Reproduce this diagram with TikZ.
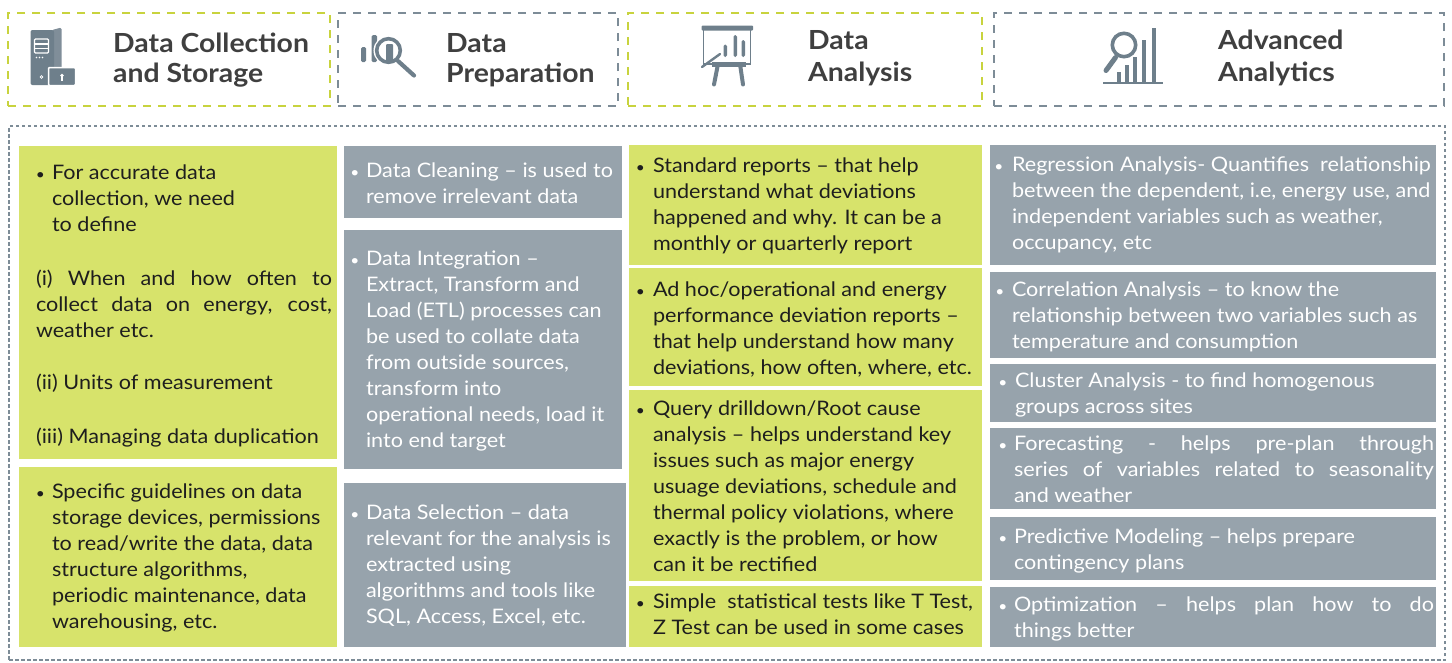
\documentclass[tikz,border=0pt]{standalone}
\usepackage{fontspec}
\setmainfont[FakeStretch=1.08]{Lato}
\definecolor{cgreen}{HTML}{D7E36B}
\definecolor{cgray}{HTML}{97A3AC}
\definecolor{hgreen}{HTML}{C8D33E}
\definecolor{hgray}{HTML}{7D8C97}
\definecolor{icon}{HTML}{6E7F8B}
\definecolor{cdark}{HTML}{1E1E1E}
\definecolor{htext}{HTML}{3F3F3F}
\newcommand\jl[2]{\makebox[#1][s]{#2}}
\newcommand\tb[1]{\begin{tabular}[t]{@{}l@{}}#1\end{tabular}}
\newcommand\bdot{\scalebox{0.72}{\textbullet}}
\tikzset{
  cell/.style={anchor=north west, inner sep=0, outer sep=0, draw=none},
  gbox/.style={cell, fill=cgreen},
  sbox/.style={cell, fill=cgray},
  hbox/.style={cell, line width=1.6, dash pattern=on 8pt off 7pt},
  txt/.style={anchor=base west, inner sep=0, outer sep=0, font=\fontsize{20}{26}\selectfont},
  gtxt/.style={txt, text=cdark},
  wtxt/.style={txt, text=white},
  bul/.style={anchor=base, inner sep=0, outer sep=0, font=\fontsize{20}{26}\selectfont},
  gbul/.style={bul, text=cdark},
  wbul/.style={bul, text=white},
  htxt/.style={anchor=base west, inner sep=0, text=htext},
  hfontA/.style={font=\fontsize{26.3}{30}\selectfont\bfseries},
  hfontB/.style={font=\fontsize{26.3}{32}\selectfont\bfseries},
}
\begin{document}
\begin{tikzpicture}[x=1pt,y=-1pt]
\useasboundingbox (0,0) rectangle (1452,662);
% header boxes
\node[hbox, draw=hgreen, minimum width=322, minimum height=93] (h1) at (8,13) {};
\node[hbox, draw=hgray, minimum width=280, minimum height=93] (h2) at (338,13) {};
\node[hbox, draw=hgreen, minimum width=354, minimum height=93] (h3) at (628,13) {};
\node[hbox, draw=hgray, minimum width=450, minimum height=93] (h4) at (994,13) {};
\node[htxt, hfontA] (t1) at (113,52) {\tb{Data Collection\\and Storage}};
\node[htxt, hfontA] (t2) at (446,52) {\tb{Data\\Preparation}};
\node[htxt, hfontB] (t3) at (808,49) {\tb{Data\\Analysis}};
\node[htxt, hfontB] (t4) at (1218,49) {\tb{Advanced\\Analytics}};
% icon 1: server + lock
\fill[icon!88, rounded corners=1.5] (52,30) -- (61.5,27.5) -- (61.5,85) -- (52,85) -- cycle;
\fill[icon, rounded corners=2] (30.5,30) rectangle (54,85);
\draw[white, line width=1.2, rounded corners=1] (34.5,39) rectangle (48.5,53);
\draw[white, line width=1.2] (34.5,44) -- (48.5,44) (34.5,48.5) -- (48.5,48.5);
\fill[white] (36.5,57.5) circle (0.9) (39.5,57.5) circle (0.9) (42.5,57.5) circle (0.9);
\draw[white, line width=0.8] (41.5,77) circle (1.4);
\draw[white, line width=6.5] (54,68) arc[start angle=180, end angle=0, radius=8];
\draw[icon, line width=3.4] (54,68) arc[start angle=180, end angle=0, radius=8];
\fill[icon, draw=white, line width=1.5, rounded corners=1] (48.5,67.5) rectangle (75.5,85.5);
\fill[white] (62,75.5) circle (1.8);
\draw[white, line width=1.3] (62,75.5) -- (62,81);
% icon 2: bars + magnifier
\fill[icon, rounded corners=1.5] (361,47) rectangle (366,62);
\fill[icon, rounded corners=1.5] (371.5,35) rectangle (377,62);
\fill[icon, rounded corners=1] (386,44) rectangle (393,62);
\draw[white, line width=2] (388.5,50.5) circle (14);
\draw[icon, line width=3.6] (388.5,50.5) circle (11.8);
\draw[icon, line width=4.2, line cap=round] (398,61) -- (414,75.5);
% icon 3: easel
\fill[icon, rounded corners=1] (701.5,25.5) rectangle (753,30.5);
\draw[icon, line width=1.8] (703.5,30) -- (703.5,64) -- (750.5,64) -- (750.5,30);
\fill[icon, rounded corners=1.6] (723.5,44.5) rectangle (727,57);
\fill[icon, rounded corners=1.6] (733.5,35) rectangle (737,57);
\fill[icon, rounded corners=1.6] (741.5,40) rectangle (745,57);
\draw[icon, line width=2.4, line cap=round] (702,67) -- (720,54);
\fill[icon] (712,62) rectangle (746,66.5);
\draw[icon, line width=4, line cap=round] (718,64) -- (714,84.5);
\draw[icon, line width=4, line cap=round] (740,64) -- (743,84.5);
% icon 4: analytics
\draw[icon, line width=2.6] (1103,83) -- (1163,83);
\fill[icon] (1116.5,72) rectangle (1120.5,81.5);
\fill[icon] (1125,65) rectangle (1129,81.5);
\fill[icon] (1133,57) rectangle (1137,81.5);
\fill[icon] (1142.3,40) rectangle (1146.3,81.5);
\fill[icon] (1151.5,28) rectangle (1155.5,81.5);
\draw[white, line width=2] (1124,45) circle (13.5);
\draw[icon, line width=3.6] (1124,45) circle (11.7);
\draw[icon, line width=5, line cap=round] (1115.5,57.5) -- (1106,70.5);
% outer dotted frame
\node[cell, draw=hgray, line width=1.4, dash pattern=on 3.5pt off 2.5pt, minimum width=1436, minimum height=534] (outer) at (9,126) {};
% column A
\node[gbox, minimum width=318, minimum height=313] (a1) at (19,146) {};
\node[gbox, minimum width=318, minimum height=180] (a2) at (19,467) {};
\node[gbul] (a1b) at (40.5,179) {\bdot};
\node[gtxt] (a1t) at (52,179) {\tb{For accurate data\\collection, we need\\to define}};
\node[gtxt] (a1i) at (36,285) {\tb{\jl{296pt}{(i) When and how often to}\\\jl{296pt}{collect data on energy, cost,}\\weather etc.}};
\node[gtxt] (a1ii) at (36,389) {(ii) Units of measurement};
\node[gtxt] (a1iii) at (36,443) {(iii) Managing data duplication};
\node[gbul] (a2b) at (40.5,498) {\bdot};
\node[gtxt] (a2t) at (52,498) {\tb{Specific guidelines on data\\storage devices, permissions\\to read/write the data, data\\structure algorithms,\\periodic maintenance, data\\warehousing, etc.}};
% column B
\node[sbox, minimum width=278, minimum height=72] (b1) at (344,146) {};
\node[sbox, minimum width=278, minimum height=239] (b2) at (344,230) {};
\node[sbox, minimum width=282, minimum height=164] (b3) at (344,483) {};
\node[wbul] (b1b) at (355,177) {\bdot};
\node[wtxt] (b1t) at (366,177) {\tb{Data Cleaning – is used to\\remove irrelevant data}};
\node[wbul] (b2b) at (355,265) {\bdot};
\node[wtxt] (b2t) at (366,265) {\tb{Data Integration –\\Extract, Transform and\\Load (ETL) processes can\\be used to collate data\\from outside sources,\\transform into\\operational needs, load it\\into end target}};
\node[wbul] (b3b) at (355,519) {\bdot};
\node[wtxt] (b3t) at (366,519) {\tb{Data Selection – data\\relevant for the analysis is\\extracted using\\algorithms and tools like\\SQL, Access, Excel, etc.}};
% column C
\node[gbox, minimum width=353, minimum height=120] (c1) at (629,145) {};
\node[gbox, minimum width=353, minimum height=118] (c2) at (629,268) {};
\node[gbox, minimum width=353, minimum height=191] (c3) at (629,390) {};
\node[gbox, minimum width=353, minimum height=61] (c4) at (629,586) {};
\node[gbul] (c1b) at (640.5,172) {\bdot};
\node[gtxt] (c1t) at (653,172) {\tb{Standard reports – that help\\understand what deviations\\happened and why. It can be a\\monthly or quarterly report}};
\node[gbul] (c2b) at (640.5,296) {\bdot};
\node[gtxt] (c2t) at (653,296) {\tb{Ad hoc/operational and energy\\performance deviation reports –\\that help understand how many\\deviations, how often, where, etc.}};
\node[gbul] (c3b) at (640.5,415) {\bdot};
\node[gtxt] (c3t) at (653,415) {\tb{Query drilldown/Root cause\\analysis – helps understand key\\issues such as major energy\\usuage deviations, schedule and\\thermal policy violations, where\\exactly is the problem, or how\\can it be rectified}};
\node[gbul] (c4b) at (640.5,608) {\bdot};
\node[gtxt] (c4t) at (653,608) {\tb{Simple\ \ statistical tests like T Test,\\Z Test can be used in some cases}};
% column D
\node[sbox, minimum width=446, minimum height=120] (d1) at (990,145) {};
\node[sbox, minimum width=446, minimum height=86] (d2) at (990,272) {};
\node[sbox, minimum width=446, minimum height=58] (d3) at (990,364) {};
\node[sbox, minimum width=446, minimum height=81] (d4) at (990,428) {};
\node[sbox, minimum width=446, minimum height=63] (d5) at (990,517) {};
\node[sbox, minimum width=446, minimum height=60] (d6) at (990,587) {};
\node[wbul] (d1b) at (999,171) {\bdot};
\node[wtxt] (d1t) at (1012,171) {\tb{Regression Analysis- Quantifies\ \ relationship\\between the dependent, i.e, energy use, and\\independent variables such as weather,\\occupancy, etc}};
\node[wbul] (d2b) at (1000,296) {\bdot};
\node[wtxt] (d2t) at (1012,296) {\tb{Correlation Analysis – to know the\\relationship between two variables such as\\temperature and consumption}};
\node[wbul] (d3b) at (1003,387) {\bdot};
\node[wtxt] (d3t) at (1015,387) {\tb{Cluster Analysis - to find homogenous\\groups across sites}};
\node[wbul] (d4b) at (1003,450) {\bdot};
\node[wtxt] (d4t) at (1014,450) {\tb{\jl{420pt}{Forecasting - helps pre-plan through}\\\jl{420pt}{series of variables related to seasonality}\\and weather}};
\node[wbul] (d5b) at (1003,543) {\bdot};
\node[wtxt] (d5t) at (1014,543) {\tb{Predictive Modeling – helps prepare\\contingency plans}};
\node[wbul] (d6b) at (1003,611) {\bdot};
\node[wtxt] (d6t) at (1014,611) {\tb{\jl{420pt}{Optimization – helps plan how to do}\\things better}};
\end{tikzpicture}
\end{document}
